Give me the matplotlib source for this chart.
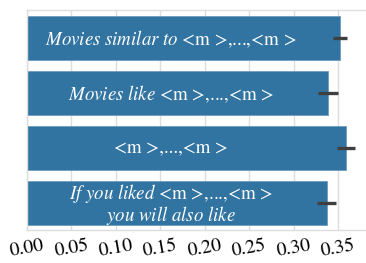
import matplotlib
matplotlib.use("Agg")
import matplotlib.pyplot as plt
import numpy as np

labels = [
    r"$Movies\ similar\ to$ <m >,...,<m >",
    r"$Movies\ like$ <m >,...,<m >",
    r"<m >,...,<m >",
    "$If\\ you\\ liked$ <m >,...,<m >\n$you\\ will\\ also\\ like$",
]
values = [0.3525, 0.3390, 0.3590, 0.3375]
errors = [0.0080, 0.0110, 0.0100, 0.0105]
err_centers = [0.3525, 0.3390, 0.3590, 0.3370]
xticks = [0.00, 0.05, 0.10, 0.15, 0.20, 0.25, 0.30, 0.35]

plt.rcParams['font.family'] = ['STIXGeneral', 'DejaVu Serif']
plt.rcParams['mathtext.fontset'] = 'stix'

fig = plt.figure(figsize=(3.66, 2.63), dpi=100)
ax = fig.add_axes([27/366, 1 - 230/263, (368 - 27)/366, (230 - 10)/263])

y = np.arange(len(values))
ax.barh(y, values, height=0.8, color='#3274a1', edgecolor='#6f9cc0', linewidth=0.6, zorder=2)
ax.errorbar(err_centers, y, xerr=errors, fmt='none', ecolor='#3f3f3f', elinewidth=2.4, capsize=0, zorder=3)

for yi, lab in zip(y, labels):
    ax.text(0.162, yi + 0.03, lab, color='white', ha='center', va='center', fontsize=13.6,
            linespacing=0.95, zorder=4)

ax.set_ylim(3.5, -0.5)
ax.set_xlim(0, (368 - 27) / 888.6)
ax.set_yticks([])
ax.set_xticks(xticks)
ax.set_xticklabels([f"{t:.2f}" for t in xticks], rotation=10, fontsize=14.2)
ax.tick_params(axis='x', length=0, pad=5)
ax.grid(axis='x', color='#dddddd', linewidth=1.0, zorder=0)
ax.set_axisbelow(True)
for s in ax.spines.values():
    s.set_color('#dddddd')
    s.set_linewidth(1.0)

fig.savefig("out.png", dpi=100)
